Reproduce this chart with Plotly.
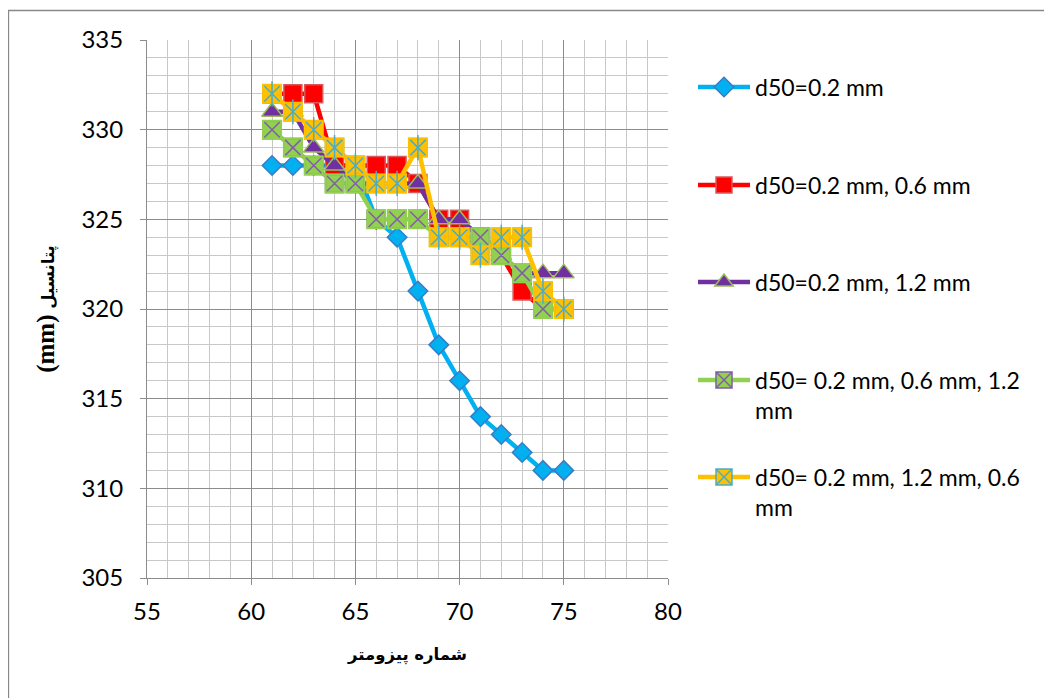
import plotly.graph_objects as go

# ---- data ----
piezometer = [61, 62, 63, 64, 65, 66, 67, 68, 69, 70, 71, 72, 73, 74, 75]
s_02 = [328, 328, 328, 328, 328, 325, 324, 321, 318, 316, 314, 313, 312, 311, 311]
s_02_06 = [332, 332, 332, 328, 328, 328, 328, 327, 325, 325, 324, 323, 321, 320, 320]
s_02_12 = [331, 331, 329, 328, 327, 327, 327, 327, 325, 325, 324, 323, 322, 322, 322]
s_02_06_12 = [330, 329, 328, 327, 327, 325, 325, 325, 324, 324, 324, 323, 322, 320, 320]
s_02_12_06 = [332, 331, 330, 329, 328, 327, 327, 329, 324, 324, 323, 324, 324, 321, 320]

names = [
    "d50=0.2 mm",
    "d50=0.2 mm, 0.6 mm",
    "d50=0.2 mm, 1.2 mm",
    "d50= 0.2 mm, 0.6 mm, 1.2<br>mm",
    "d50= 0.2 mm, 1.2 mm, 0.6<br>mm",
]
x_ticks = [55, 60, 65, 70, 75, 80]
y_ticks = [305, 310, 315, 320, 325, 330, 335]

FONT = "Lato"
LW = 4.5

fig = go.Figure()

fig.add_trace(go.Scatter(
    x=piezometer, y=s_02, name=names[0], mode="lines+markers", legend="legend",
    line=dict(color="#00B0F0", width=LW),
    marker=dict(symbol="diamond", size=15, color="#00B0F0",
                line=dict(color="#3A7CC4", width=1.5))))

fig.add_trace(go.Scatter(
    x=piezometer, y=s_02_06, name=names[1], mode="lines+markers", legend="legend2",
    line=dict(color="#FF0000", width=LW),
    marker=dict(symbol="square", size=18, color="#FF0000",
                line=dict(color="#D9595A", width=1.5))))

fig.add_trace(go.Scatter(
    x=piezometer, y=s_02_12, name=names[2], mode="lines+markers", legend="legend3",
    line=dict(color="#7030A0", width=LW),
    marker=dict(symbol="triangle-up", size=18, color="#7030A0",
                line=dict(color="#9BBB59", width=1.5))))

fig.add_trace(go.Scatter(
    x=piezometer, y=s_02_06_12, name=names[3], mode="lines+markers", legend="legend4",
    line=dict(color="#92D050", width=LW),
    marker=dict(symbol="square-x", size=18, color="#92D050",
                line=dict(color="#7F5FA8", width=1.5))))
fig.add_trace(go.Scatter(
    x=piezometer, y=s_02_06_12, mode="markers", showlegend=False, hoverinfo="skip",
    marker=dict(symbol="square-open", size=18, color="#92D050", line=dict(width=2))))

fig.add_trace(go.Scatter(
    x=piezometer, y=s_02_12_06, name=names[4], mode="lines+markers", legend="legend5",
    line=dict(color="#FFC000", width=LW),
    marker=dict(symbol="square-x", size=18, color="#FFC000",
                line=dict(color="#4BACC6", width=1.5))))
fig.add_trace(go.Scatter(
    x=piezometer, y=s_02_12_06, mode="markers", showlegend=False, hoverinfo="skip",
    marker=dict(symbol="square-open", size=18, color="#FFC000", line=dict(width=2))))
fig.add_trace(go.Scatter(
    x=piezometer, y=s_02_12_06, mode="markers", showlegend=False, hoverinfo="skip",
    marker=dict(symbol="line-ns-open", size=18, color="#4BACC6", line=dict(width=1.5))))

# page has an 8px body margin; figure coordinates = page coordinates - 8
OFF = 8
W, H = 1052, 698
L, T = 147 - OFF, 40 - OFF
R = W - (668 - OFF)
B = H - (578 - OFF)
pw, ph = W - L - R, H - T - B


def px(xpage):
    return (xpage - OFF - L) / pw


def py(ypage):
    return (H - B - (ypage - OFF)) / ph


def leg(ypix):
    return dict(x=px(693), xanchor="left", y=py(ypix), yanchor="middle",
                bgcolor="rgba(0,0,0,0)", borderwidth=0, itemwidth=52,
                valign="top", font=dict(family=FONT, size=23, color="black"))


axis_common = dict(
    showgrid=True, gridcolor="#8C8C8C", gridwidth=1,
    showline=True, linecolor="#8C8C8C", linewidth=1,
    ticks="outside", ticklen=6, tickcolor="#8C8C8C",
    zeroline=False, tickfont=dict(family=FONT, size=24, color="black"),
)

fig.update_layout(
    width=W, height=H,
    margin=dict(l=L, r=R, t=T, b=B),
    paper_bgcolor="white", plot_bgcolor="white",
    font=dict(family=FONT, size=23, color="black"),
    xaxis=dict(range=[55, 80], tickmode="array", tickvals=x_ticks,
               minor=dict(dtick=1, tick0=55, showgrid=True, gridcolor="#C8C8C8", gridwidth=1, ticks=""),
               ticklabelstandoff=6,
               title=dict(text="<b>شماره پیزومتر</b>", standoff=24,
                          font=dict(family="DejaVu Sans", size=16.5, color="black")),
               **axis_common),
    yaxis=dict(range=[305, 335], tickmode="array", tickvals=y_ticks,
               minor=dict(dtick=1, tick0=305, showgrid=True, gridcolor="#C8C8C8", gridwidth=1, ticks=""),
               ticklabelstandoff=12,
               title=dict(text="<b><span style='font-family:Liberation Serif;font-size:25px'>(mm)</span> پتانسیل</b>",
                          standoff=22,
                          font=dict(family="DejaVu Sans", size=16.5, color="black")),
               **axis_common),
    legend=leg(87),
    legend2=leg(185),
    legend3=leg(282),
    legend4=leg(395),
    legend5=leg(492),
    shapes=[dict(type="rect", xref="paper", yref="paper",
                 x0=px(8.5), x1=px(1080), y0=py(730), y1=py(10.5),
                 line=dict(color="#898989", width=1.3), fillcolor="rgba(0,0,0,0)", layer="above")],
)

fig.write_html("out.html")
